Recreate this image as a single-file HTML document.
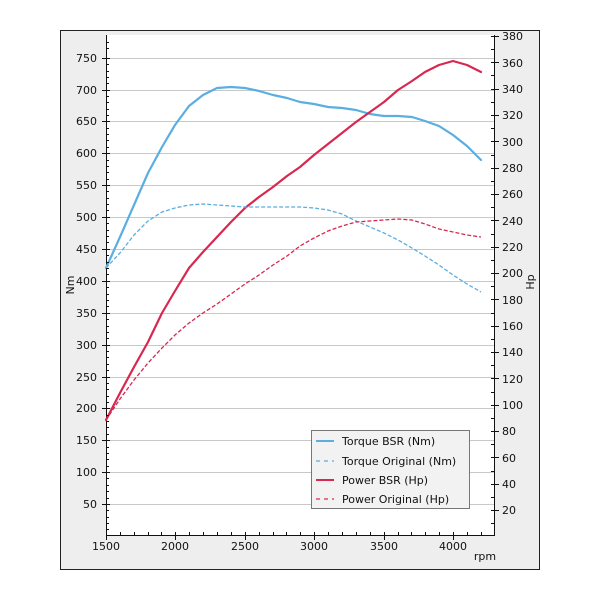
<!DOCTYPE html>
<html><head><style>body{margin:0;background:#fff}svg text{font-family:"DejaVu Sans",sans-serif;font-size:11px;fill:#111}</style></head><body>
<svg width="600" height="600" xmlns="http://www.w3.org/2000/svg">
<rect x="60.5" y="30.5" width="479" height="539" fill="#eeeeee" stroke="#222"/>
<rect x="106" y="35" width="389" height="501" fill="#fff"/>
<g stroke="#c8c8c8" stroke-width="1">
<line x1="106" x2="495" y1="58.5" y2="58.5"/><line x1="106" x2="495" y1="90.5" y2="90.5"/><line x1="106" x2="495" y1="121.5" y2="121.5"/><line x1="106" x2="495" y1="153.5" y2="153.5"/><line x1="106" x2="495" y1="185.5" y2="185.5"/><line x1="106" x2="495" y1="217.5" y2="217.5"/><line x1="106" x2="495" y1="249.5" y2="249.5"/><line x1="106" x2="495" y1="281.5" y2="281.5"/><line x1="106" x2="495" y1="313.5" y2="313.5"/><line x1="106" x2="495" y1="345.5" y2="345.5"/><line x1="106" x2="495" y1="377.5" y2="377.5"/><line x1="106" x2="495" y1="408.5" y2="408.5"/><line x1="106" x2="495" y1="440.5" y2="440.5"/><line x1="106" x2="495" y1="472.5" y2="472.5"/><line x1="106" x2="495" y1="504.5" y2="504.5"/>
</g>
<g stroke="#111" stroke-width="1">
<line x1="106.5" y1="35" x2="106.5" y2="536"/><line x1="494.5" y1="35" x2="494.5" y2="536"/><line x1="106" y1="535.5" x2="495" y2="535.5"/>
</g>
<g text-anchor="end">
<text x="97" y="62">750</text><text x="97" y="94">700</text><text x="97" y="125">650</text><text x="97" y="157">600</text><text x="97" y="189">550</text><text x="97" y="221">500</text><text x="97" y="253">450</text><text x="97" y="285">400</text><text x="97" y="317">350</text><text x="97" y="349">300</text><text x="97" y="381">250</text><text x="97" y="412">200</text><text x="97" y="444">150</text><text x="97" y="476">100</text><text x="97" y="508">50</text>
</g>
<g>
<text x="502" y="40">380</text><text x="502" y="67">360</text><text x="502" y="93">340</text><text x="502" y="119">320</text><text x="502" y="146">300</text><text x="502" y="172">280</text><text x="502" y="198">260</text><text x="502" y="225">240</text><text x="502" y="251">220</text><text x="502" y="277">200</text><text x="502" y="304">180</text><text x="502" y="330">160</text><text x="502" y="356">140</text><text x="502" y="383">120</text><text x="502" y="409">100</text><text x="502" y="435">80</text><text x="502" y="462">60</text><text x="502" y="488">40</text><text x="502" y="514">20</text>
</g>
<g text-anchor="middle">
<text x="106" y="550">1500</text><text x="175" y="550">2000</text><text x="245" y="550">2500</text><text x="314" y="550">3000</text><text x="384" y="550">3500</text><text x="453" y="550">4000</text>
<text x="485" y="560">rpm</text>
<text transform="translate(74,285) rotate(-90)">Nm</text>
<text transform="translate(534,282) rotate(-90)">Hp</text>
</g>
<g fill="none" stroke-width="2.2" stroke-linejoin="round" stroke-linecap="round">
<polyline stroke="#5aaee0" points="106,268 120,237 134,205 148,173 162,147 175,125 189,106 203,95 217,88 231,87 245,88 259,91 273,95 287,98 300,102 314,104 328,107 342,108 356,110 370,114 384,116 398,116 412,117 425,121 439,126 453,135 467,146 481,160"/>
<polyline stroke="#d8284f" points="106,420 120,393 134,367 148,342 162,313 175,291 189,268 203,252 217,237 231,222 245,208 259,197 273,187 287,176 300,167 314,155 328,144 342,133 356,122 370,112 384,102 398,90 412,81 425,72 439,65 453,61 467,65 481,72"/>
</g>
<g fill="none" stroke-width="1.3" stroke-dasharray="4,2">
<polyline stroke="#5aaee0" points="106,268 120,253 134,235 148,221 162,212 175,208 189,205 203,204 217,205 231,206 245,207 273,207 300,207 314,208 328,210 342,214 356,221 370,227 384,233 398,240 412,248 425,256 439,265 453,275 467,284 481,292"/>
<polyline stroke="#d8284f" points="106,420 120,399 134,380 148,363 162,348 175,335 189,323 203,313 217,304 231,294 245,284 259,275 273,265 287,256 300,246 314,238 328,231 342,226 356,222 370,221 384,220 398,219 412,220 425,224 439,229 453,232 467,235 481,237"/>
</g>
<rect x="311.5" y="430.5" width="158" height="78" fill="#f2f2f2" stroke="#777"/>
<line x1="316" x2="334" y1="441" y2="441" stroke="#5aaee0" stroke-width="2"/>
<line x1="316" x2="334" y1="461" y2="461" stroke="#5aaee0" stroke-width="1.2" stroke-dasharray="4,4"/>
<line x1="316" x2="334" y1="480" y2="480" stroke="#d8284f" stroke-width="2"/>
<line x1="316" x2="334" y1="499" y2="499" stroke="#d8284f" stroke-width="1.2" stroke-dasharray="4,4"/>
<text x="342" y="445">Torque BSR (Nm)</text>
<text x="342" y="465">Torque Original (Nm)</text>
<text x="342" y="484">Power BSR (Hp)</text>
<text x="342" y="503">Power Original (Hp)</text>
<g stroke="#111">
<path d="M102,58.5h8M102,90.5h8M102,121.5h8M102,153.5h8M102,185.5h8M102,217.5h8M102,249.5h8M102,281.5h8M102,313.5h8M102,345.5h8M102,377.5h8M102,408.5h8M102,440.5h8M102,472.5h8M102,504.5h8"/>
<path d="M491,36.5h8M491,62.5h8M491,89.5h8M491,115.5h8M491,141.5h8M491,168.5h8M491,194.5h8M491,220.5h8M491,247.5h8M491,273.5h8M491,299.5h8M491,326.5h8M491,352.5h8M491,378.5h8M491,405.5h8M491,431.5h8M491,457.5h8M491,484.5h8M491,510.5h8"/>
<path d="M106.5,532v8M175.5,532v8M245.5,532v8M314.5,532v8M384.5,532v8M453.5,532v8"/>
<path d="M106,42.5h3M106,48.5h3M106,64.5h3M106,71.5h3M106,77.5h3M106,83.5h3M106,96.5h3M106,102.5h3M106,109.5h3M106,115.5h3M106,128.5h3M106,134.5h3M106,140.5h3M106,147.5h3M106,160.5h3M106,166.5h3M106,172.5h3M106,179.5h3M106,191.5h3M106,198.5h3M106,204.5h3M106,210.5h3M106,223.5h3M106,230.5h3M106,236.5h3M106,242.5h3M106,255.5h3M106,262.5h3M106,268.5h3M106,274.5h3M106,287.5h3M106,294.5h3M106,300.5h3M106,306.5h3M106,319.5h3M106,326.5h3M106,332.5h3M106,338.5h3M106,351.5h3M106,357.5h3M106,364.5h3M106,370.5h3M106,383.5h3M106,389.5h3M106,396.5h3M106,402.5h3M106,415.5h3M106,421.5h3M106,427.5h3M106,434.5h3M106,447.5h3M106,453.5h3M106,459.5h3M106,466.5h3M106,478.5h3M106,485.5h3M106,491.5h3M106,498.5h3M106,510.5h3M106,517.5h3M106,523.5h3M106,529.5h3"/>
<path d="M491,49.5h3M491,75.5h3M491,102.5h3M491,128.5h3M491,155.5h3M491,181.5h3M491,207.5h3M491,234.5h3M491,260.5h3M491,286.5h3M491,313.5h3M491,339.5h3M491,365.5h3M491,392.5h3M491,418.5h3M491,444.5h3M491,471.5h3M491,497.5h3M491,523.5h3"/>
<path d="M120.5,532v3M134.5,532v3M148.5,532v3M161.5,532v3M189.5,532v3M203.5,532v3M217.5,532v3M231.5,532v3M259.5,532v3M273.5,532v3M286.5,532v3M300.5,532v3M328.5,532v3M342.5,532v3M356.5,532v3M370.5,532v3M398.5,532v3M411.5,532v3M425.5,532v3M439.5,532v3M467.5,532v3M481.5,532v3"/>
</g>
</svg>
</body></html>
